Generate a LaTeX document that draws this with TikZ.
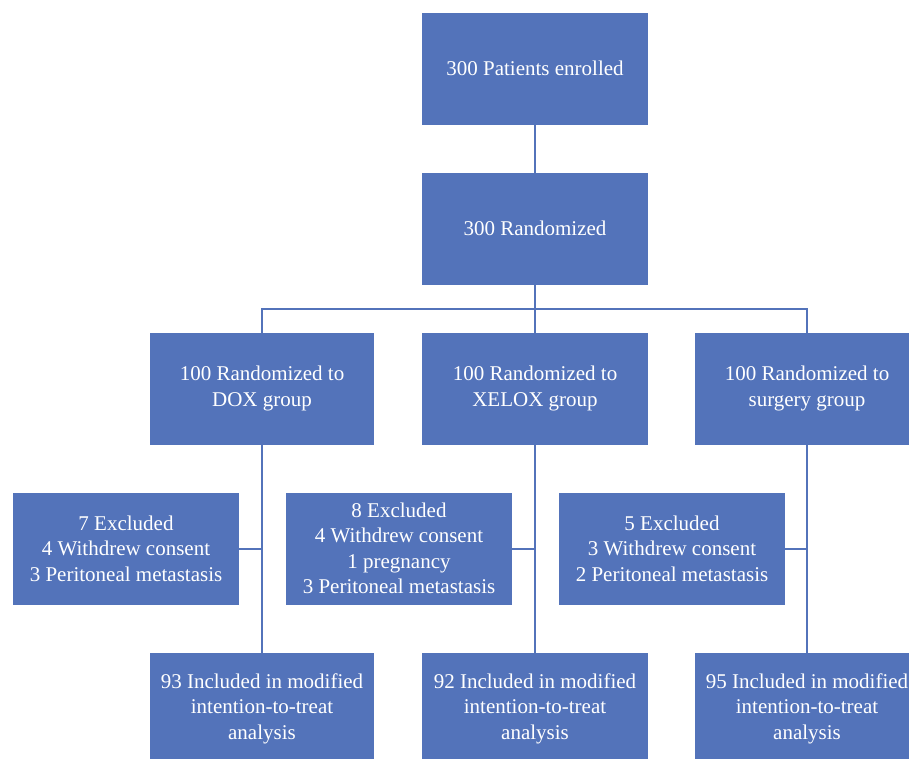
\documentclass[tikz,border=0pt]{standalone}
\usepackage{fontspec}
\setmainfont{Liberation Serif}
\definecolor{boxblue}{HTML}{5373BA}
\begin{document}
\begin{tikzpicture}[x=1pt,y=-1pt,
  box/.style={fill=none, draw=none, text=white, align=center, inner sep=0pt,
    font=\fontsize{21}{25.5}\selectfont},
  link/.style={draw=boxblue, line width=1.3pt}]
\useasboundingbox (0,0) rectangle (909,758);
\newcommand{\mybox}[6]{% name, x1, y1, x2, y2, text
  \fill[boxblue] (#2,#3) rectangle (#4,#5);
  \coordinate (#1) at ({(#2+#4)/2},{(#3+#5)/2});
  \node[box, yshift=0.5pt] (#1-t) at (#1) {#6};
  \coordinate (#1-n) at ({(#2+#4)/2},#3);
  \coordinate (#1-s) at ({(#2+#4)/2},#5);
  \coordinate (#1-e) at (#4,{(#3+#5)/2});
}
\mybox{enr}{422}{13}{648}{125}{300 Patients enrolled}
\mybox{rand}{422}{173}{648}{285}{300 Randomized}
\mybox{dox}{150}{333}{374}{445}{100 Randomized to\\DOX group}
\mybox{xel}{422}{333}{648}{445}{100 Randomized to\\XELOX group}
\mybox{sur}{695}{333}{919}{445}{100 Randomized to\\surgery group}
\mybox{exa}{13}{493}{239}{605}{7 Excluded\\4 Withdrew consent\\3 Peritoneal metastasis}
\mybox{exb}{286}{493}{512}{605}{8 Excluded\\4 Withdrew consent\\1 pregnancy\\3 Peritoneal metastasis}
\mybox{exc}{559}{493}{785}{605}{5 Excluded\\3 Withdrew consent\\2 Peritoneal metastasis}
\mybox{ina}{150}{653}{374}{765}{93 Included in modified\\intention-to-treat\\analysis}
\mybox{inb}{422}{653}{648}{765}{92 Included in modified\\intention-to-treat\\analysis}
\mybox{inc}{695}{653}{919}{765}{95 Included in modified\\intention-to-treat\\analysis}
% connectors
\coordinate (bar) at (535,309);
\draw[link] (enr-s) -- (rand-n);
\draw[link] (rand-s) -- (bar);
\draw[link] (bar) -| (dox-n);
\draw[link] (bar) -| (sur-n);
\draw[link] (bar) -- (xel-n);
\draw[link] (dox-s) -- (ina-n);
\draw[link] (xel-s) -- (inb-n);
\draw[link] (sur-s) -- (inc-n);
\draw[link] (exa-e) -- (dox-s |- exa-e);
\draw[link] (exb-e) -- (xel-s |- exb-e);
\draw[link] (exc-e) -- (sur-s |- exc-e);
\end{tikzpicture}
\end{document}
